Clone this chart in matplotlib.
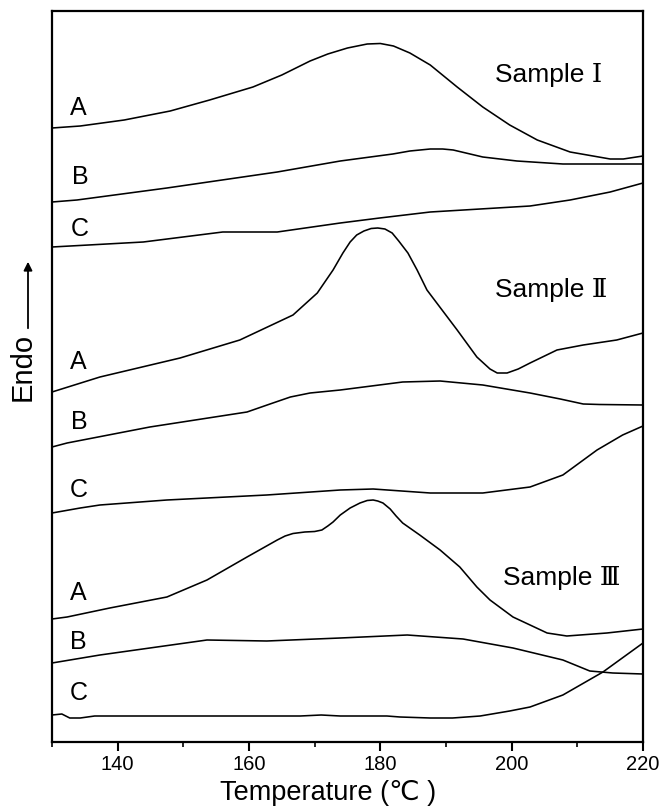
import matplotlib
matplotlib.use("Agg")
import matplotlib.pyplot as plt
from matplotlib.ticker import MultipleLocator

# ---- data (temperature in degC, signal in arbitrary units) ----
t_A1 = [130, 134.3, 141.0, 148.0, 154.0, 160.6, 165.0, 169.3, 172.0, 175.0, 178.0, 180.0, 182.0,
        184.5, 187.6, 191.7, 195.6, 199.7, 203.9, 208.9, 215.0, 217.0, 220]
y_A1 = [614, 616, 622, 631, 642, 655, 667, 681, 688, 694, 698, 698.5, 696,
        689, 677, 655, 635, 617, 602, 590, 583, 583, 586]

t_B1 = [130, 133.8, 147.5, 164.3, 173.9, 181.9, 184.5, 187.6, 189.5, 191.1, 195.6, 200.8, 207.8, 220]
y_B1 = [540, 542, 554, 570, 581, 588, 591, 593, 593, 592, 585, 581, 578, 578]

t_C1 = [130, 143.9, 156.0, 164.3, 173.9, 179.9, 187.6, 195.2, 202.8, 208.9, 215.0, 220]
y_C1 = [495, 500, 510, 510, 519, 524, 530, 533, 536, 542, 550, 559]

t_A2 = [130, 137.3, 149.5, 158.6, 166.7, 170.4, 172.8, 174.3, 175.4, 176.4, 177.5, 178.6, 179.6,
        180.7, 181.8, 182.8, 184.2, 185.6, 187.1, 189.4, 191.7, 194.7, 196.7, 197.8, 199.3,
        201.0, 202.8, 206.9, 210.9, 216.0, 220]
y_A2 = [350, 365, 384, 402, 427, 449, 472, 489, 500, 507, 511, 513.5, 514,
        513, 509, 501, 489, 472, 452, 432, 412, 385, 373, 369, 369,
        373, 379, 392, 397, 402, 409]

t_B2 = [130, 132.3, 144.9, 159.7, 163.2, 166.3, 169.3, 173.9, 183.4, 189.1, 195.6, 202.8,
        207.4, 210.9, 213.4, 220]
y_B2 = [295, 299, 315, 330, 338, 345, 349, 352, 360, 361, 357, 349,
        343, 338, 337.5, 337]

t_C2 = [130, 134.3, 137.3, 147.5, 162.7, 173.9, 178.9, 187.6, 195.6, 202.8, 207.8, 213.0, 216.9, 220]
y_C2 = [229, 234, 237, 242, 247, 252, 253, 249, 249, 255, 267, 292, 307, 316]

t_A3 = [130, 132.3, 138.8, 147.5, 153.6, 159.7, 164.3, 165.5, 166.7, 168.5, 170.0, 171.1, 172.0,
        172.8, 173.9, 175.4, 176.9, 178.0, 178.9, 179.6, 180.4, 181.5, 182.4, 183.4, 186.0,
        189.1, 192.1, 194.7, 196.7, 200.2, 205.4, 208.4, 214.5, 220]
y_A3 = [123, 125, 134, 145, 162, 185, 202, 206, 208.5, 210, 210.5, 212, 216,
        220, 227, 234, 239, 241.5, 242, 241, 239, 233, 226, 219, 207,
        192, 175, 155, 142, 125, 109, 106, 109, 113]

t_B3 = [130, 137.3, 144.9, 153.6, 162.7, 173.9, 184.1, 192.6, 200.2, 207.8, 211.9, 215.4, 220]
y_B3 = [79, 87, 94, 102, 101, 104, 107, 103, 94, 82, 71, 69, 68]

t_C3 = [130, 131.5, 132.7, 134.3, 136.5, 152.5, 167.8, 171, 173.9, 181, 183.0, 187.6, 191,
        195.2, 199.7, 202.8, 207.8, 213.9, 220]
y_C3 = [27, 28, 24, 24, 26, 26, 26, 27, 26, 26, 25, 24, 24,
        26, 31, 35, 47, 70, 99]

curves = [(t_A1, y_A1), (t_B1, y_B1), (t_C1, y_C1),
          (t_A2, y_A2), (t_B2, y_B2), (t_C2, y_C2),
          (t_A3, y_A3), (t_B3, y_B3), (t_C3, y_C3)]

curve_labels = ["A", "B", "C", "A", "B", "C", "A", "B", "C"]
label_t = [134.0, 134.3, 134.3, 134.0, 134.1, 134.0, 134.0, 134.0, 134.0]
label_y = [634, 565, 513, 380, 320, 252, 149, 100, 49]

sample_names = ["Sample \u2160", "Sample \u2161", "Sample \u2162"]
sample_t = [197.5, 197.5, 198.7]
sample_y = [667, 452, 164]

xticks_major = [140, 160, 180, 200, 220]

# ---- figure ----
fig = plt.figure(figsize=(6.65, 8.07), dpi=100)
ax = fig.add_axes([52/665, 65/807, 591/665, 731/807])

for t, y in curves:
    ax.plot(t, y, color="black", lw=1.15)

for lab, tx, ty in zip(curve_labels, label_t, label_y):
    ax.text(tx, ty, lab, ha="center", va="center", fontsize=18,
            family=["Liberation Sans", "DejaVu Sans"])

for name, tx, ty in zip(sample_names, sample_t, sample_y):
    ax.text(tx, ty, name, ha="left", va="center", fontsize=19,
            family=["Liberation Sans", "DejaVu Serif", "Noto Sans CJK SC"])

ax.set_xlim(130, 220)
ax.set_ylim(0, 731)
ax.set_xticks(xticks_major)
ax.set_xticklabels([str(v) for v in xticks_major],
                   fontsize=14.5, family=["Liberation Sans", "DejaVu Sans"])
ax.xaxis.set_minor_locator(MultipleLocator(10))
ax.tick_params(axis="x", which="major", direction="out", length=6.5, width=1.5, pad=2.5)
ax.tick_params(axis="x", which="minor", direction="out", length=3.5, width=1.2)
ax.set_yticks([])
for s in ax.spines.values():
    s.set_linewidth(1.6)

# x axis title placed by its baseline
fig.text(328/665, 6.5/807, "Temperature (\u2103 )", ha="center", va="baseline", fontsize=19.5,
         family=["Liberation Sans", "DejaVu Sans"])

# y label with arrow
fig.text(23/665, 1 - 367/807, "Endo", rotation=90, ha="center", va="center",
         fontsize=21, family=["Liberation Sans", "DejaVu Sans"])
fig.patches.append(matplotlib.patches.FancyArrowPatch(
    (28/665, 1 - 331/807), (28/665, 1 - 259/807), transform=fig.transFigure,
    arrowstyle="-|>,head_length=5,head_width=2.5", color="black", lw=1.3))

fig.savefig("out.png", dpi=100)
